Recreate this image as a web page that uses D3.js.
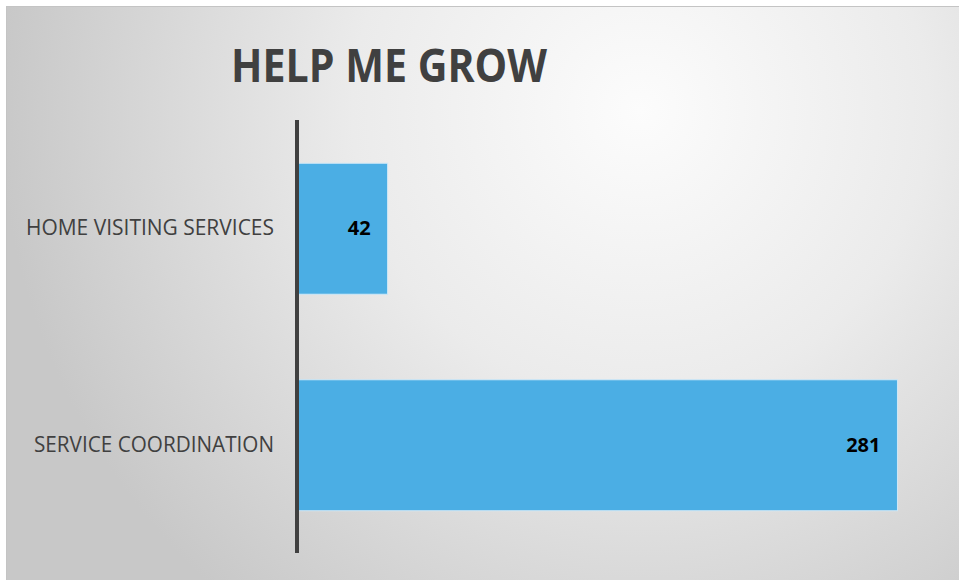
<!DOCTYPE html>
<html>
<head>
<meta charset="utf-8">
<script src="https://cdn.jsdelivr.net/npm/d3@7"></script>
<style>
  html, body { margin: 0; padding: 0; background: #fff; }
  svg { display: block; }
</style>
</head>
<body>
<svg id="chart"></svg>
<script>
// data
const title = "HELP ME GROW";
const categories = ["HOME VISITING SERVICES", "SERVICE COORDINATION"];
const values = [42, 281];

const style = ({
    dim: { width: 959, height: 580 },
    frame: { x: 7, y: 7 },
    plot: { left: 297, right: 937, top: 120, bottom: 553 },
    bar: { fill: "#4baee4", stroke: "#cfe8f7" },
    axis: { stroke: "#404040", width: 4 },
    text: "#404040",
    font: "'Open Sans', 'Noto Sans', sans-serif"
});

const svg = d3.select("#chart")
    .attr("width", style.dim.width)
    .attr("height", style.dim.height)
    .attr("viewBox", [0, 0, style.dim.width, style.dim.height]);

const defs = svg.append("defs");
const grad = defs.append("radialGradient")
    .attr("id", "bg")
    .attr("gradientUnits", "userSpaceOnUse")
    .attr("cx", 640).attr("cy", 110).attr("r", 640);
grad.append("stop").attr("offset", "0").attr("stop-color", "#fcfcfc");
grad.append("stop").attr("offset", "0.45").attr("stop-color", "#ebebeb");
grad.append("stop").attr("offset", "1").attr("stop-color", "#c8c8c8");

// chart area background with thin border
svg.append("rect")
    .attr("x", style.frame.x - 0.5)
    .attr("y", style.frame.y - 0.5)
    .attr("width", style.dim.width - style.frame.x + 2)
    .attr("height", style.dim.height - style.frame.y + 2)
    .style("fill", "url(#bg)")
    .style("stroke", "#c4c4c4")
    .style("stroke-width", 1);

const x = d3.scaleLinear()
    .domain([0, 300])
    .range([style.plot.left, style.plot.right]);

const y = d3.scaleBand()
    .domain(categories)
    .range([style.plot.top, style.plot.bottom])
    .paddingInner(0.395)
    .paddingOuter(0.1975);

const g = svg.append("g");

g.selectAll("rect.bar")
    .data(values)
    .join("rect")
    .attr("class", "bar")
    .attr("x", x(0))
    .attr("y", (d, i) => y(categories[i]) + 0.5)
    .attr("width", d => x(d) - x(0) + 1)
    .attr("height", y.bandwidth())
    .style("fill", style.bar.fill)
    .style("stroke", style.bar.stroke)
    .style("stroke-width", 1);

// value labels, inside end
g.selectAll("text.value")
    .data(values)
    .join("text")
    .attr("class", "value")
    .attr("x", d => x(d) - 16)
    .attr("y", (d, i) => y(categories[i]) + y.bandwidth() / 2)
    .attr("dy", "0.36em")
    .attr("text-anchor", "end")
    .style("font", `bold 20px ${style.font}`)
    .style("fill", "#000")
    .text(d => d);

// category labels
g.selectAll("text.cat")
    .data(categories)
    .join("text")
    .attr("class", "cat")
    .attr("x", style.plot.left - 23)
    .attr("y", d => y(d) + y.bandwidth() / 2)
    .attr("dy", "0.34em")
    .attr("text-anchor", "end")
    .attr("textLength", d => d === categories[0] ? 248 : 240)
    .attr("lengthAdjust", "spacingAndGlyphs")
    .style("font", `21px ${style.font}`)
    .style("fill", style.text)
    .text(d => d);

// vertical axis line
g.append("line")
    .attr("x1", x(0)).attr("x2", x(0))
    .attr("y1", style.plot.top).attr("y2", style.plot.bottom)
    .style("stroke", style.axis.stroke)
    .style("stroke-width", style.axis.width);

// title
svg.append("text")
    .attr("x", 231)
    .attr("y", 82)
    .attr("textLength", 316)
    .attr("lengthAdjust", "spacingAndGlyphs")
    .style("font", `bold 46px ${style.font}`)
    .style("fill", style.text)
    .text(title);
</script>
</body>
</html>
